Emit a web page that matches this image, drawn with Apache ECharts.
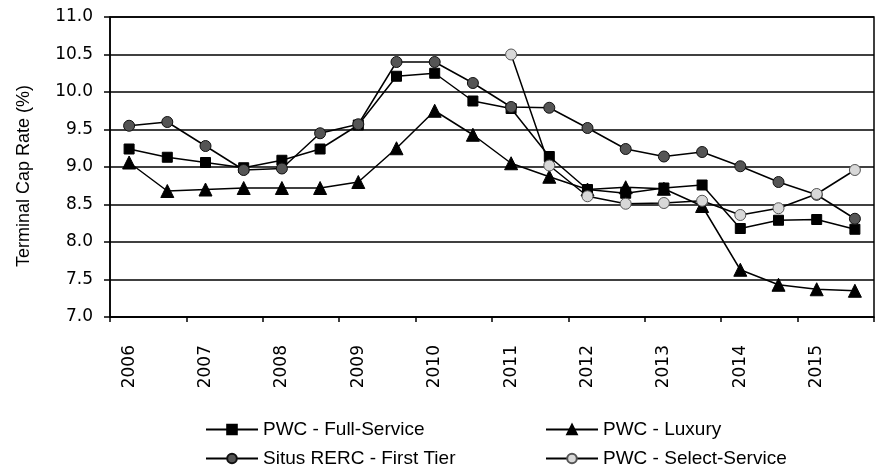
<!DOCTYPE html>
<html>
<head>
<meta charset="utf-8">
<script src="https://cdn.jsdelivr.net/npm/echarts@6/dist/echarts.min.js"></script>
<style>
  html, body { margin: 0; padding: 0; background: #fff; }
  #chart { width: 876px; height: 469px; }
</style>
</head>
<body>
<div id="chart"></div>
<script>
// half-year periods, labelled by year on the first half only
const periods = [
  '2006 H1', '2006 H2', '2007 H1', '2007 H2', '2008 H1', '2008 H2',
  '2009 H1', '2009 H2', '2010 H1', '2010 H2', '2011 H1', '2011 H2',
  '2012 H1', '2012 H2', '2013 H1', '2013 H2', '2014 H1', '2014 H2',
  '2015 H1', '2015 H2'
]

const fullService = [9.24, 9.13, 9.06, 8.99, 9.09, 9.24, 9.56, 10.21, 10.25, 9.88,
  9.78, 9.14, 8.70, 8.65, 8.72, 8.76, 8.18, 8.29, 8.30, 8.17]
const luxury = [9.06, 8.68, 8.70, 8.72, 8.72, 8.72, 8.80, 9.25, 9.75, 9.43,
  9.05, 8.87, 8.70, 8.73, 8.71, 8.48, 7.63, 7.43, 7.37, 7.35]
const situsFirstTier = [9.55, 9.60, 9.28, 8.96, 8.98, 9.45, 9.57, 10.40, 10.40, 10.12,
  9.80, 9.79, 9.52, 9.24, 9.14, 9.20, 9.01, 8.80, 8.63, 8.31]
const selectService = [null, null, null, null, null, null, null, null, null, null,
  10.50, 9.02, 8.61, 8.51, 8.52, 8.55, 8.36, 8.45, 8.64, 8.96]

const seriesNames = ['PWC - Full-Service', 'PWC - Luxury', 'Situs RERC - First Tier', 'PWC - Select-Service']

const chart = echarts.init(document.getElementById('chart'))

const legendFont = {
  fontFamily: '"Liberation Sans Narrow", "Liberation Sans", sans-serif',
  fontSize: 19,
  color: '#000'
}

const makeLegend = (name, left, top) => ({
  data: [name],
  left: left,
  top: top,
  padding: 0,
  orient: 'horizontal',
  itemWidth: 52,
  itemHeight: 12,
  itemGap: 0,
  textStyle: legendFont
})

const lineSeries = (name, data, symbol, size, fill, border) => ({
  name: name,
  type: 'line',
  data: data,
  symbol: symbol,
  symbolSize: size,
  showAllSymbol: true,
  connectNulls: false,
  lineStyle: { color: '#000', width: 1.5 },
  itemStyle: { color: fill, borderColor: border, borderWidth: 1 },
  emphasis: { disabled: true }
})

const option = {
  animation: false,
  backgroundColor: '#fff',
  grid: {
    left: 110,
    right: 2,
    top: 17,
    bottom: 152,
    show: true,
    borderColor: '#000',
    borderWidth: 1.5
  },
  legend: [
    makeLegend(seriesNames[0], 205, 420),
    makeLegend(seriesNames[1], 545, 420),
    makeLegend(seriesNames[2], 205, 449),
    makeLegend(seriesNames[3], 545, 449)
  ],
  xAxis: {
    type: 'category',
    data: periods,
    boundaryGap: true,
    axisLine: { lineStyle: { color: '#000', width: 1.5 } },
    axisTick: { show: true, interval: 1, length: 5, lineStyle: { color: '#000', width: 1.5 } },
    axisLabel: {
      interval: 1,
      rotate: 90,
      margin: 28,
      color: '#000',
      fontFamily: '"DejaVu Sans", sans-serif',
      fontSize: 17,
      formatter: v => v.slice(0, 4)
    },
    splitLine: { show: false }
  },
  yAxis: {
    type: 'value',
    min: 7,
    max: 11,
    interval: 0.5,
    name: 'Terminal Cap Rate (%)',
    nameLocation: 'middle',
    nameGap: 77,
    nameTextStyle: {
      fontFamily: '"Liberation Sans", Arial, sans-serif',
      fontSize: 18,
      color: '#000',
      padding: [0, 18, 0, 0]
    },
    axisLine: { show: true, lineStyle: { color: '#000', width: 1.5 } },
    axisTick: { show: true, length: 6, lineStyle: { color: '#000', width: 1.5 } },
    axisLabel: {
      margin: 17,
      color: '#000',
      fontFamily: '"DejaVu Sans", sans-serif',
      fontSize: 17,
      formatter: v => v.toFixed(1)
    },
    splitLine: { show: true, lineStyle: { color: '#000', width: 1.5 } }
  },
  series: [
    lineSeries(seriesNames[0], fullService, 'rect', 10, '#000', '#000'),
    lineSeries(seriesNames[1], luxury, 'triangle', 13, '#000', '#000'),
    lineSeries(seriesNames[2], situsFirstTier, 'circle', 11, '#555', '#111'),
    lineSeries(seriesNames[3], selectService, 'circle', 11, '#d8d8d8', '#555')
  ]
}

chart.setOption(option)
</script>
</body>
</html>
